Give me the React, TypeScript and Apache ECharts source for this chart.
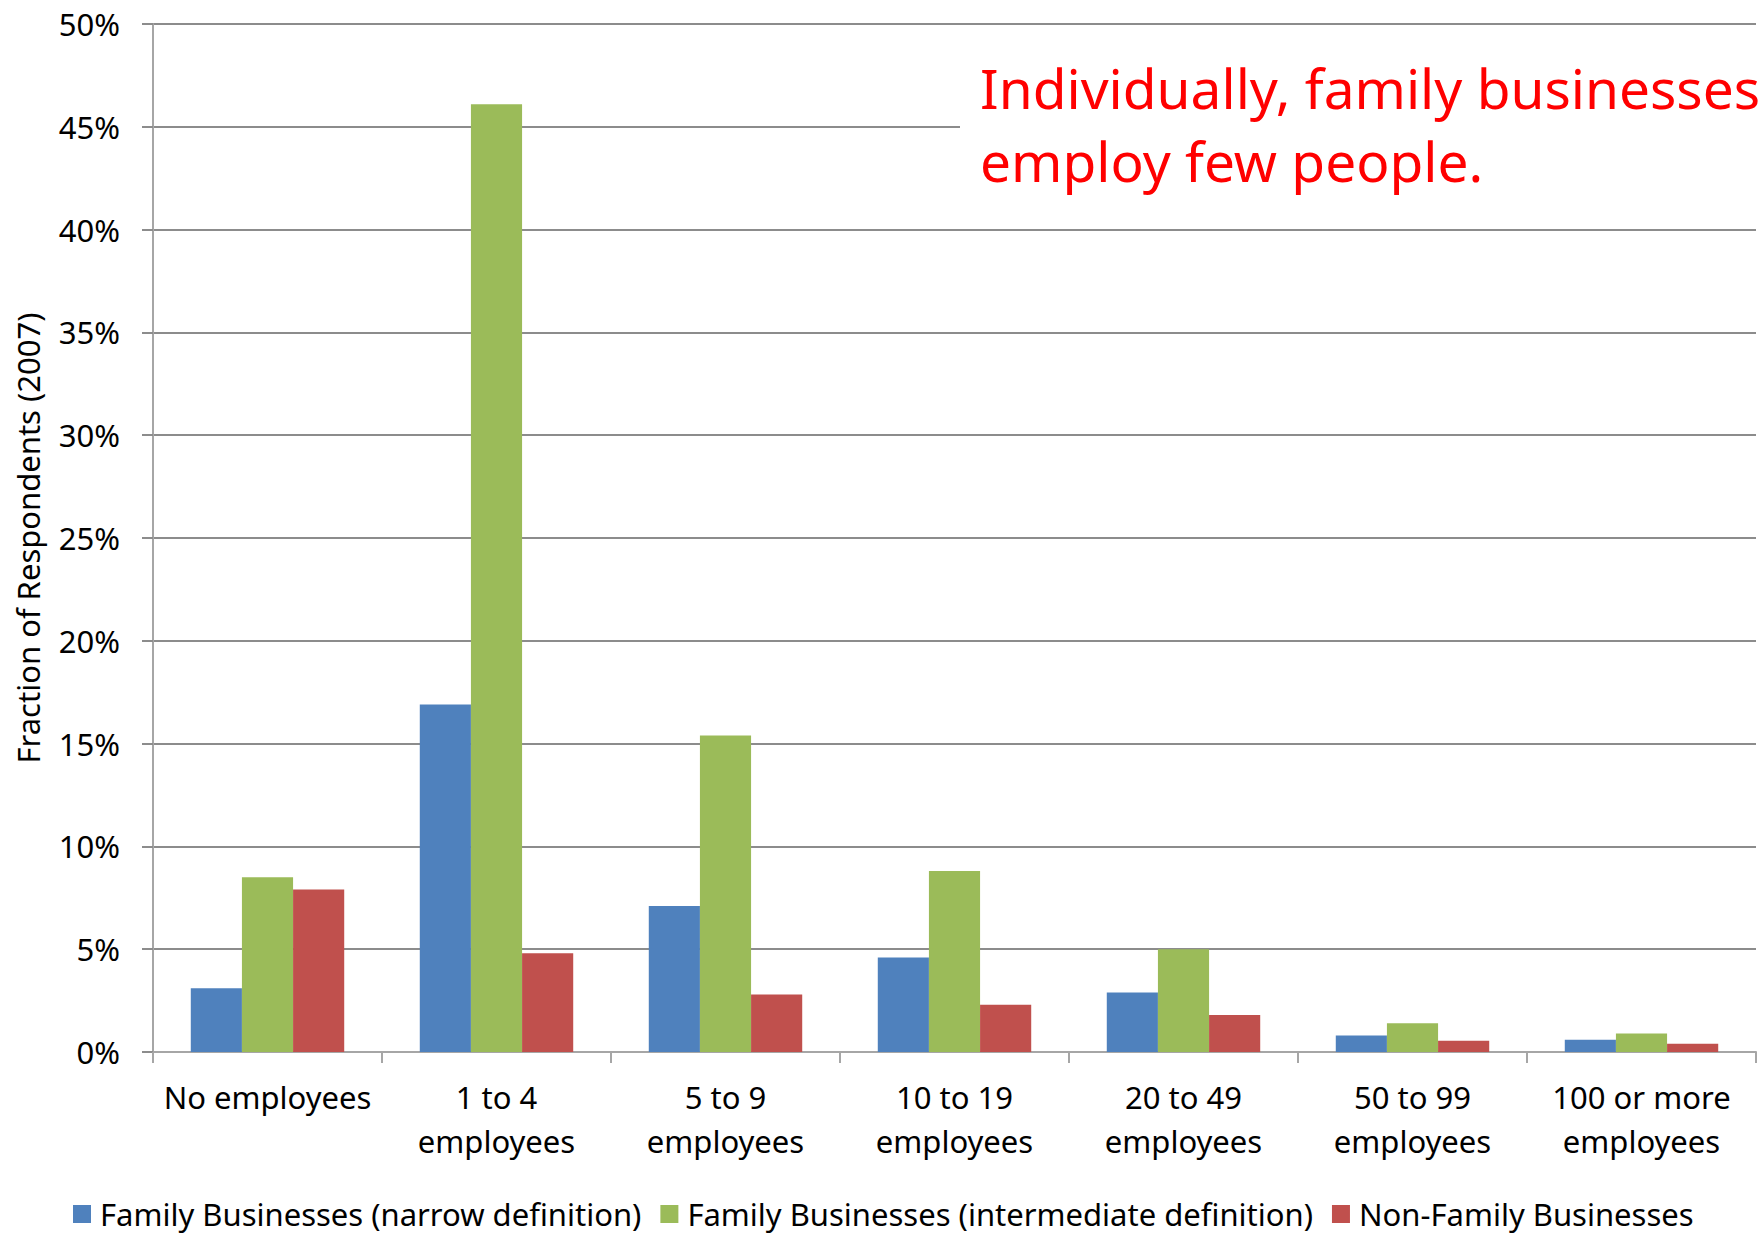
import React, { useEffect, useRef } from "react";
import * as echarts from "echarts";

const categories = [
  "No employees",
  "1 to 4\nemployees",
  "5 to 9\nemployees",
  "10 to 19\nemployees",
  "20 to 49\nemployees",
  "50 to 99\nemployees",
  "100 or more\nemployees",
];
const seriesNames = [
  "Family Businesses (narrow definition)",
  "Family Businesses (intermediate definition)",
  "Non-Family Businesses",
];
const narrow = [3.1, 16.9, 7.1, 4.6, 2.9, 0.8, 0.6];
const intermediate = [8.5, 46.1, 15.4, 8.8, 5.0, 1.4, 0.9];
const nonFamily = [7.9, 4.8, 2.8, 2.3, 1.8, 0.55, 0.4];
const colors = ["#4F81BD", "#9BBB59", "#C0504D"];
const annotation = ["Individually, family businesses", "employ few people."];
const yAxisTitle = "Fraction of Respondents (2007)";

const FONT = "'Noto Sans', sans-serif";

export default function App() {
  const ref = useRef<HTMLDivElement>(null);
  useEffect(() => {
    if (!ref.current) return;
    const chart = echarts.init(ref.current, null, { renderer: "svg" });
    const data = [narrow, intermediate, nonFamily];
    chart.setOption({
      animation: false,
      backgroundColor: "#ffffff",
      textStyle: { fontFamily: FONT },
      grid: { left: 153, right: 7, top: 24, bottom: 183, containLabel: false },
      legend: {
        left: 68,
        top: 1192,
        icon: "rect",
        itemWidth: 18,
        itemHeight: 18,
        itemGap: 19,
        textStyle: { fontFamily: FONT, fontSize: 31, lineHeight: 34, color: "#000", padding: [0, 0, 0, 4] },
        data: seriesNames,
      },
      xAxis: {
        type: "category",
        data: categories,
        axisLine: { show: true, lineStyle: { color: "#a6a6a6", width: 2 } },
        axisTick: { show: true, length: 11, alignWithLabel: false, lineStyle: { color: "#a6a6a6", width: 2 } },
        axisLabel: {
          interval: 0,
          margin: 23,
          fontFamily: FONT,
          fontSize: 31,
          lineHeight: 44,
          color: "#000",
        },
      },
      yAxis: {
        type: "value",
        min: 0,
        max: 50,
        interval: 5,
        name: yAxisTitle,
        nameLocation: "middle",
        nameRotate: 90,
        nameGap: 110,
        nameTextStyle: { fontFamily: FONT, fontSize: 31, color: "#000" },
        axisLine: { show: true, lineStyle: { color: "#a6a6a6", width: 2 } },
        axisTick: { show: true, length: 11, lineStyle: { color: "#8c8c8c", width: 2 } },
        axisLabel: {
          formatter: "{value}%",
          margin: 33,
          fontFamily: FONT,
          fontSize: 31,
          color: "#000",
        },
        splitLine: { show: true, lineStyle: { color: "#8c8c8c", width: 2 } },
      },
      series: seriesNames.map((name, i) => ({
        name,
        type: "bar",
        data: data[i],
        barGap: "0%",
        barCategoryGap: "33%",
        itemStyle: { color: colors[i] },
      })),
      graphic: [
        {
          type: "rect",
          z: 100,
          shape: { x: 960, y: 40, width: 803, height: 175 },
          style: { fill: "#ffffff" },
        },
        {
          type: "text",
          z: 101,
          x: 980,
          y: 60,
          style: {
            text: annotation[0],
            fill: "#ff0000",
            fontFamily: FONT,
            fontSize: 55,
          },
        },
        {
          type: "text",
          z: 101,
          x: 980,
          y: 133,
          style: {
            text: annotation[1],
            fill: "#ff0000",
            fontFamily: FONT,
            fontSize: 55,
          },
        },
      ],
    });
    return () => chart.dispose();
  }, []);
  return <div ref={ref} style={{ width: 1763, height: 1235, position: "absolute", left: 0, top: 0 }} />;
}
